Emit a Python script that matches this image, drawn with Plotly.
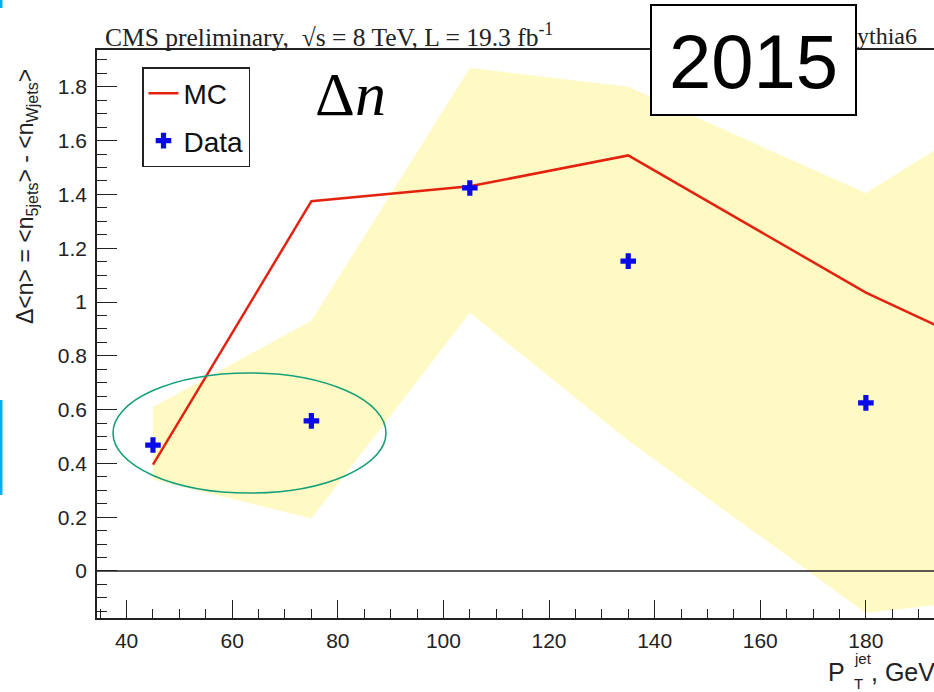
import plotly.graph_objects as go

# ---------------- data ----------------
pt_bins = [45, 75, 105, 135, 180]
data_vals = [0.468, 0.558, 1.424, 1.152, 0.625]

mc_pt = [45, 75, 105, 135, 180, 210]
mc_vals = [0.395, 1.375, 1.43, 1.545, 1.035, 0.76]

band_pt = [45, 75, 105, 135, 180, 210]
band_upper = [0.61, 0.93, 1.87, 1.80, 1.405, 1.77]
band_lower = [0.34, 0.195, 0.96, 0.485, -0.156, -0.09]

x_ticks = [40, 60, 80, 100, 120, 140, 160, 180]
y_ticks = [0, 0.2, 0.4, 0.6, 0.8, 1, 1.2, 1.4, 1.6, 1.8]
y_ticklabels = ["0", "0.2", "0.4", "0.6", "0.8", "1", "1.2", "1.4", "1.6", "1.8"]

# ---------------- layout helpers (pixel -> paper) ----------------
W, H = 934, 692
L, R, T, B = 97, 0, 50, 74
PW, PH = W - L - R, H - T - B


def px(x):
    return (x - L) / PW


def py(y):
    return (H - B - y) / PH


SANS = "Liberation Sans, Arial, sans-serif"
SERIF = "Liberation Serif, Times New Roman, serif"

fig = go.Figure()

# uncertainty band
fig.add_trace(go.Scatter(
    x=band_pt + band_pt[::-1],
    y=band_upper + band_lower[::-1],
    fill="toself", fillcolor="#fffac4",
    line=dict(width=0), mode="lines",
    showlegend=False, hoverinfo="skip",
))

# MC line
fig.add_trace(go.Scatter(
    x=mc_pt, y=mc_vals, mode="lines", name="MC",
    line=dict(color="#e3230f", width=2.5),
    legendgroup="mc",
))

# Data points
fig.add_trace(go.Scatter(
    x=pt_bins, y=data_vals, mode="markers", name="Data",
    marker=dict(symbol="cross", size=13, color="#0a0ae6", line=dict(width=0)),
    legendgroup="data",
))

axis_common = dict(
    showline=True, linecolor="#222", linewidth=1.5,
    ticks="inside", tickcolor="#222", tickwidth=1.2,
    showgrid=False, zeroline=False,
    tickfont=dict(family=SANS, size=21, color="#222"),
)

fig.update_xaxes(
    range=[34.4, 192.9], tickmode="array", tickvals=x_ticks,
    ticklen=18, mirror=True, ticklabelstandoff=3,
    minor=dict(dtick=5, tick0=0, ticks="inside", ticklen=9, tickcolor="#222", tickwidth=1.2),
    **axis_common,
)
fig.update_yaxes(
    range=[-0.175, 1.937], tickmode="array", tickvals=y_ticks, ticktext=y_ticklabels,
    ticklen=20, ticklabelstandoff=4,
    minor=dict(dtick=0.05, tick0=0, ticks="inside", ticklen=10, tickcolor="#222", tickwidth=1.2),
    **axis_common,
)

shapes = [
    # y = 0 reference line
    dict(type="line", xref="paper", x0=0, x1=1, yref="y", y0=0, y1=0,
         line=dict(color="#222", width=1.5), layer="above"),
    # "2015" box
    dict(type="rect", xref="paper", yref="paper",
         x0=px(651), x1=px(856), y0=py(115), y1=py(5),
         fillcolor="white", line=dict(color="black", width=2), layer="above"),
    # green ellipse
    dict(type="circle", xref="paper", yref="paper",
         x0=px(113), x1=px(386), y0=py(493), y1=py(373),
         line=dict(color="#16a079", width=1.6), layer="above"),
    # blue slide marks at left edge
    dict(type="rect", xref="paper", yref="paper",
         x0=px(0), x1=px(2.5), y0=py(495), y1=py(400),
         fillcolor="#00b0f0", line=dict(width=0), layer="above"),
    dict(type="rect", xref="paper", yref="paper",
         x0=px(0), x1=px(2.5), y0=py(8), y1=py(0),
         fillcolor="#00b0f0", line=dict(width=0), layer="above"),
]

annotations = [
    dict(text="CMS preliminary,  √s = 8 TeV, L = 19.3 fb<sup>-1</sup>",
         xref="paper", yref="paper", x=px(103), y=py(36),
         xanchor="left", yanchor="middle", showarrow=False,
         font=dict(family=SERIF, size=25.5, color="#222")),
    dict(text="ythia6", xref="paper", yref="paper", x=px(855), y=py(36),
         xanchor="left", yanchor="middle", showarrow=False,
         font=dict(family=SERIF, size=24, color="#222")),
    dict(text="2015", xref="paper", yref="paper", x=px(753), y=py(61),
         xanchor="center", yanchor="middle", showarrow=False,
         font=dict(family=SANS, size=76, color="black")),
    dict(text="Δ<i>n</i>", xref="paper", yref="paper", x=px(350), y=py(94),
         xanchor="center", yanchor="middle", showarrow=False,
         font=dict(family=SERIF, size=62, color="black")),
    # y-axis title
    dict(text="Δ&lt;n&gt; = &lt;n<sub>5jets</sub>&gt; - &lt;n<sub>Wjets</sub>&gt;",
         xref="paper", yref="paper", x=px(26), y=py(197), textangle=-90,
         xanchor="center", yanchor="middle", showarrow=False,
         font=dict(family=SANS, size=23, color="#222")),
    # x-axis title P_T^jet, GeV
    dict(text="P", xref="paper", yref="paper", x=px(847), y=py(672),
         xanchor="right", yanchor="middle", showarrow=False,
         font=dict(family=SANS, size=25, color="#222")),
    dict(text="jet", xref="paper", yref="paper", x=px(852), y=py(658),
         xanchor="left", yanchor="middle", showarrow=False,
         font=dict(family=SANS, size=15, color="#222")),
    dict(text="T", xref="paper", yref="paper", x=px(852), y=py(683),
         xanchor="left", yanchor="middle", showarrow=False,
         font=dict(family=SANS, size=15, color="#222")),
    dict(text=", GeV", xref="paper", yref="paper", x=px(869), y=py(672),
         xanchor="left", yanchor="middle", showarrow=False,
         font=dict(family=SANS, size=25, color="#222")),
]

fig.update_layout(
    width=W, height=H,
    margin=dict(l=L, r=R, t=T, b=B, autoexpand=False),
    paper_bgcolor="white", plot_bgcolor="white",
    shapes=shapes, annotations=annotations,
    legend=dict(
        x=px(142), y=py(67), xanchor="left", yanchor="top",
        bgcolor="white", bordercolor="#222", borderwidth=1.5,
        font=dict(family=SANS, size=28, color="#111"),
        itemwidth=30, tracegroupgap=8,
    ),
    showlegend=True,
)

fig.write_html(
    "out.html",
    config={"displayModeBar": False},
    post_script="document.body.style.margin='0';document.body.style.padding='0';",
)
